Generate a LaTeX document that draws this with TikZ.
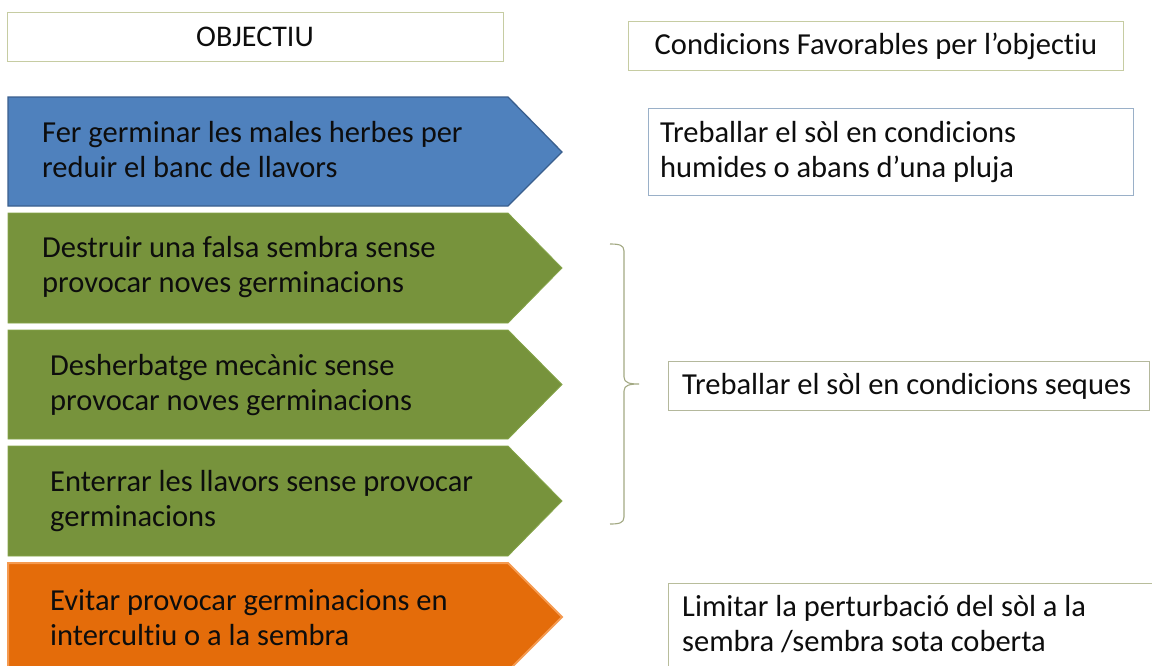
\documentclass[tikz,border=0pt]{standalone}
\usepackage{fontspec}
\setmainfont{Carlito}[Ligatures=NoCommon]
\definecolor{blueF}{HTML}{4F81BD}
\definecolor{blueD}{HTML}{3A5F8E}
\definecolor{greenF}{HTML}{77933C}
\definecolor{greenD}{HTML}{86A54A}
\definecolor{orangeF}{HTML}{E46C0A}
\definecolor{orangeD}{HTML}{F59A50}
\definecolor{oliveLine}{HTML}{C6CCA2}
\definecolor{blueLine}{HTML}{9AB0C8}
\definecolor{grayLine}{HTML}{B4B89C}
\definecolor{braceLine}{HTML}{A3A983}
\definecolor{txtC}{HTML}{0D0D0D}
\begin{document}
\begin{tikzpicture}[x=1pt,y=-1pt,
  big/.style={font=\fontsize{30.5}{35}\selectfont, text=txtC},
  txt/.style={big, align=left, inner sep=0pt, anchor=west},
  hdrbox/.style={draw=oliveLine, line width=1pt, fill=white, minimum height=49pt, inner sep=0pt, text=txtC},
  arrowshape/.style={line width=1.3pt, line join=miter}
]
\useasboundingbox (0,0) rectangle (1152,665);
\clip (0,0) rectangle (1152,665);
\fill[white] (0,0) rectangle (1152,665);

% headers
\node[hdrbox, minimum width=496pt, font=\fontsize{30}{34}\selectfont] (objhdr) at (255,36.5) {OBJECTIU};
\node[hdrbox, minimum width=495pt, font=\fontsize{30.5}{34}\selectfont] (condhdr) at (876,46) {Condicions Favorables per l’objectiu};

% arrows
\filldraw[arrowshape, fill=blueF, draw=blueD] (8,97) -- (508,97) -- (562,152) -- (508,206) -- (8,206) -- cycle;
\filldraw[arrowshape, fill=greenF, draw=greenD, line width=0.8pt] (8,213) -- (508,213) -- (562,268) -- (508,323) -- (8,323) -- cycle;
\filldraw[arrowshape, fill=greenF, draw=greenD, line width=0.8pt] (8,330) -- (508,330) -- (562,384.5) -- (508,439) -- (8,439) -- cycle;
\filldraw[arrowshape, fill=greenF, draw=greenD, line width=0.8pt] (8,446) -- (508,446) -- (562,501) -- (508,556) -- (8,556) -- cycle;
\filldraw[arrowshape, fill=orangeF, draw=orangeD, line width=2pt] (8,563) -- (508,563) -- (562,617) -- (508,671) -- (8,671) -- cycle;

\node[txt] (a1) at (42,150) {Fer germinar les males herbes per\\reduir el banc de llavors};
\node[txt] (a2) at (42,267) {Destruir una falsa sembra sense\\provocar noves germinacions};
\node[txt] (a3) at (50,385) {Desherbatge mecànic sense\\provocar noves germinacions};
\node[txt] (a4) at (50,501) {Enterrar les llavors sense provocar\\germinacions};
\node[txt] (a5) at (50,618) {Evitar provocar germinacions en\\intercultiu o a la sembra};

% condition boxes
\draw[blueLine, line width=1pt, fill=white] (648,108) rectangle (1133,195);
\node[txt] (c1) at (660,152) {Treballar el sòl en condicions\\humides o abans d’una pluja};

\draw[grayLine, line width=1pt, fill=white] (668,361) rectangle (1149,410);
\node[txt] (c2) at (682,386) {Treballar el sòl en condicions seques};

\draw[oliveLine!80!gray, line width=1pt, fill=white] (668,583) rectangle (1170,680);
\node[txt] (c3) at (682,624) {Limitar la perturbació del sòl a la\\sembra /sembra sota coberta};

% brace
\coordinate (brtop) at (610,244);
\coordinate (brbot) at (610,524);
\coordinate (brtip) at (639,384);
\draw[braceLine, line width=1.1pt] (brtop) .. controls (619,244) and (624,245) .. (624,251)
  -- (624,377) .. controls (624,383) and (630,384) .. (brtip)
  .. controls (630,384) and (624,385) .. (624,391)
  -- (624,517) .. controls (624,523) and (619,524) .. (brbot);
\end{tikzpicture}
\end{document}
